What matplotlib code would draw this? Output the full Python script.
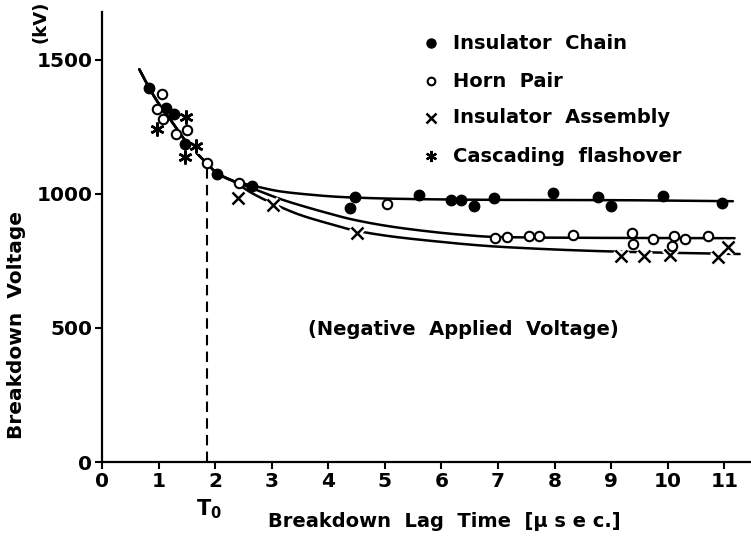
import matplotlib
matplotlib.use("Agg")
import matplotlib.pyplot as plt
import numpy as np

# ---------------- data ----------------
chain_t = [0.83, 1.13, 1.27, 1.47, 2.03, 2.65, 4.47, 4.38, 5.61, 6.16, 6.35, 6.58,
           6.93, 7.97, 8.76, 9.00, 9.92, 10.95]
chain_v = [1397, 1322, 1299, 1188, 1075, 1030, 989, 949, 997, 978, 978, 956,
           985, 1003, 990, 955, 993, 965]

horn_t = [1.06, 0.98, 1.08, 1.31, 1.51, 1.85, 2.43, 5.04, 6.94, 7.16, 7.54, 7.73,
          8.32, 9.36, 9.38, 9.74, 10.07, 10.11, 10.30, 10.71]
horn_v = [1373, 1317, 1280, 1224, 1238, 1115, 1042, 962, 835, 838, 843, 843,
          847, 853, 813, 831, 806, 843, 831, 843]

assy_t = [2.41, 3.03, 4.51, 9.18, 9.58, 10.04, 10.89, 11.07]
assy_v = [984, 959, 856, 769, 769, 772, 766, 803]

casc_t = [1.48, 0.98, 1.67, 1.47]
casc_v = [1288, 1241, 1179, 1137]

# fitted curves (anchor points)
common_t = [0.66, 0.83, 1.00, 1.20, 1.47, 1.85, 2.03, 2.30]
common_v = [1465, 1397, 1338, 1280, 1200, 1115, 1078, 1050]
fit_chain_t = common_t + [2.65, 3.14, 3.50, 4.30, 5.50, 7.00, 9.00, 11.15]
fit_chain_v = common_v + [1032, 1010, 1001, 988, 981, 978, 977, 973]
fit_horn_t = common_t + [2.67, 3.14, 3.50, 4.00, 4.38, 5.00, 5.62, 6.30, 6.91, 8.00, 11.18]
fit_horn_v = common_v + [1020, 982, 958, 928, 907, 882, 864, 849, 840, 837, 835]
fit_assy_t = common_t + [2.61, 2.91, 3.17, 3.50, 4.00, 4.38, 5.00, 5.68, 7.03, 9.09, 11.27]
fit_assy_v = common_v + [1008, 975, 950, 922, 890, 868, 845, 828, 803, 785, 776]

T0 = 1.85
T0_v = 1115

x_ticks = list(range(0, 12))
y_ticks = [0, 500, 1000, 1500]

legend_labels = ["Insulator  Chain", "Horn  Pair", "Insulator  Assembly", "Cascading  flashover"]


def pchip(x, y, xn):
    x = np.asarray(x, float); y = np.asarray(y, float)
    h = np.diff(x); d = np.diff(y) / h
    m = np.zeros_like(y)
    m[0] = d[0]; m[-1] = d[-1]
    for k in range(1, len(x) - 1):
        if d[k - 1] * d[k] > 0:
            w1 = 2 * h[k] + h[k - 1]; w2 = h[k] + 2 * h[k - 1]
            m[k] = (w1 + w2) / (w1 / d[k - 1] + w2 / d[k])
    idx = np.clip(np.searchsorted(x, xn) - 1, 0, len(x) - 2)
    t = (xn - x[idx]) / h[idx]
    h00 = 2 * t**3 - 3 * t**2 + 1; h10 = t**3 - 2 * t**2 + t
    h01 = -2 * t**3 + 3 * t**2; h11 = t**3 - t**2
    return h00 * y[idx] + h10 * h[idx] * m[idx] + h01 * y[idx + 1] + h11 * h[idx] * m[idx + 1]


FONT = dict(family="DejaVu Sans", weight="bold")
plt.rcParams["font.family"] = "DejaVu Sans"
plt.rcParams["font.weight"] = "bold"
plt.rcParams["mathtext.default"] = "regular"

fig = plt.figure(figsize=(7.51, 5.41), dpi=100)
ax = fig.add_axes([102 / 751, 79 / 541, 649 / 751, 450 / 541])
ax.set_xlim(0, 11.47)
ax.set_ylim(0, 1679)

for tt, vv in [(fit_chain_t, fit_chain_v), (fit_horn_t, fit_horn_v), (fit_assy_t, fit_assy_v)]:
    xs = np.linspace(tt[0], tt[-1], 600)
    ax.plot(xs, pchip(tt, vv, xs), color="black", lw=1.8, zorder=2, solid_capstyle="round")

ax.plot([T0, T0], [0, T0_v], color="black", lw=1.5, ls=(0, (5, 3)), zorder=2)

ax.plot(chain_t, chain_v, "o", ms=7.5, mfc="black", mec="black", zorder=4)
ax.plot(horn_t, horn_v, "o", ms=6.8, mfc="white", mec="black", mew=1.5, zorder=4)
ax.plot(assy_t, assy_v, "x", ms=8.5, color="white", mew=5, zorder=3)
ax.plot(assy_t, assy_v, "x", ms=8.5, color="black", mew=1.8, zorder=4)
ax.plot(casc_t, casc_v, marker=(6, 2, 0), ls="none", ms=10, color="white", mew=4.5, zorder=3)
ax.plot(casc_t, casc_v, marker=(6, 2, 0), ls="none", ms=10, color="black", mew=1.8, zorder=4)

# legend (manual)
lx, tx = 5.81, 6.20
rows = [1563, 1420, 1284, 1140]
ax.plot([lx], [rows[0]], "o", ms=6.5, color="black", clip_on=False)
ax.plot([lx], [rows[1]], "o", ms=5.5, mfc="white", mec="black", mew=1.5, clip_on=False)
ax.plot([lx], [rows[2]], "x", ms=6.5, color="black", mew=1.8, clip_on=False)
ax.plot([lx], [rows[3]], marker=(6, 2, 0), ls="none", ms=8, color="black", mew=1.6, clip_on=False)
for r, lab in zip(rows, legend_labels):
    ax.text(tx, r, lab, fontsize=14, va="center", ha="left", **FONT)

ax.text(6.38, 493, "(Negative  Applied  Voltage)", fontsize=14, ha="center", va="center", **FONT)

# axes styling
for s in ["top", "right"]:
    ax.spines[s].set_visible(False)
for s in ["left", "bottom"]:
    ax.spines[s].set_linewidth(1.6)
ax.set_xticks(x_ticks)
ax.set_xticklabels([str(v) for v in x_ticks])
ax.set_yticks(y_ticks)
ax.set_yticklabels([str(v) for v in y_ticks])
ax.tick_params(direction="out", length=5, width=1.5, labelsize=14.5, pad=2)
for lab in ax.get_xticklabels() + ax.get_yticklabels():
    lab.set_fontweight("bold")

ax.set_xlabel("Breakdown  Lag  Time  [\u03bc s e c.]", fontsize=14, **FONT)
ax.xaxis.set_label_coords(0.527, -0.112)
ax.set_ylabel("Breakdown  Voltage", fontsize=14.5, **FONT)
ax.yaxis.set_label_coords(-0.117, 0.304)
ax.text(-0.095, 0.979, "(kV)", transform=ax.transAxes, rotation=90, fontsize=13,
        ha="center", va="center", **FONT)
ax.text(T0 + 0.04, -175, "T$_0$", fontsize=15, ha="center", va="center", clip_on=False, **FONT)

fig.savefig("out.png", dpi=100)
